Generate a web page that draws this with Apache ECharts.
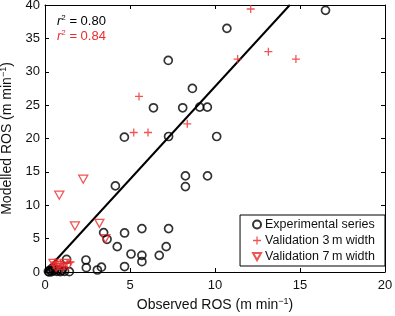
<!DOCTYPE html>
<html>
<head>
<meta charset="utf-8">
<script src="https://cdn.jsdelivr.net/npm/echarts@6/dist/echarts.min.js"></script>
<style>
  html, body { margin: 0; padding: 0; background: #fff; }
  #chart { width: 395px; height: 316px; }
</style>
</head>
<body>
<div id="chart"></div>
<script>
// data
const experimental = [
  [16.5, 39.2], [10.7, 36.5], [7.25, 31.7], [8.67, 27.5], [6.38, 24.6], [8.1, 24.6],
  [9.1, 24.7], [9.55, 24.7], [4.67, 20.2], [7.27, 20.3], [10.1, 20.3], [8.26, 14.4],
  [9.56, 14.4], [8.26, 12.8], [4.14, 12.9], [3.45, 5.9], [3.65, 4.9], [4.68, 5.85],
  [5.7, 6.5], [7.27, 6.5], [4.25, 3.8], [7.13, 3.8], [5.06, 2.7], [5.7, 2.5],
  [6.72, 2.5], [5.7, 1.55], [2.41, 1.8], [2.43, 0.65], [3.08, 0.3], [3.32, 0.72],
  [4.68, 0.82], [1.27, 1.9], [1.43, 0.05], [0.2, 0.1], [0.3, 0.3], [0.4, 0.05],
  [0.5, 0.2], [0.6, 0.4], [0.7, 0.1], [0.8, 0.3], [0.9, 0.05], [1.0, 0.25],
  [1.15, 0.1], [0.45, 0.6], [0.25, 0.0]
]
const valid3m = [
  [12.1, 39.4], [11.33, 31.9], [13.14, 33.0], [14.76, 31.9], [5.53, 26.3], [5.22, 20.9],
  [6.06, 20.9], [8.37, 22.2], [0.5, 1.0], [0.7, 0.7], [0.9, 1.2], [1.1, 0.8],
  [1.3, 1.3], [0.6, 1.5], [1.0, 0.4], [1.5, 1.5]
]
const valid7m = [
  [0.84, 11.5], [2.25, 13.9], [1.76, 6.9], [3.2, 7.3], [3.55, 5.0], [0.5, 1.3],
  [0.8, 1.0], [1.15, 1.3], [1.35, 0.9], [0.65, 0.7]
]
const fitLine = [[0, 0], [14.4, 40]]
const seriesNames = ['Experimental series', 'Validation 3\u2009m width', 'Validation 7\u2009m width']
const r2Values = ['0.80', '0.84']

const RED = '#ec2a2c'
const INK = '#111'
const FONT = 'Liberation Sans, Arial, sans-serif'
const plusPath = 'path://M4.2,0H5.8V4.2H10V5.8H5.8V10H4.2V5.8H0V4.2H4.2Z'
const triPath = 'path://M0,0L10,0L5,9Z'

const chart = echarts.init(document.getElementById('chart'))

// 坐标轴公共设置
const axisCommon = {
  type: 'value',
  splitLine: { show: false },
  axisLine: { show: true, onZero: false, lineStyle: { color: '#000', width: 1 } },
  axisTick: { show: true, inside: true, length: 4, lineStyle: { color: '#000' } }
}

const nameStyle = {
  color: INK, fontSize: 14,
  rich: { sup: { fontSize: 9, padding: [0, 0, 8, 0], color: INK } }
}

const option = {
  animation: false,
  textStyle: { fontFamily: FONT },
  grid: { left: 45, right: 10, top: 5, bottom: 44, outerBoundsMode: 'none', containLabel: false },
  xAxis: [
    {
      ...axisCommon,
      min: 0, max: 20, interval: 5,
      position: 'bottom',
      axisLabel: { color: INK, fontSize: 13, margin: 7 },
      name: 'Observed ROS (m min{sup|\u22121})',
      nameLocation: 'middle',
      nameGap: 22,
      nameTextStyle: nameStyle
    },
    {
      ...axisCommon,
      min: 0, max: 20, interval: 5,
      position: 'top',
      axisLabel: { show: false }
    }
  ],
  yAxis: [
    {
      ...axisCommon,
      min: 0, max: 40, interval: 5,
      position: 'left',
      axisLabel: { color: INK, fontSize: 13, margin: 5 },
      name: 'Modelled ROS (m min{sup|\u22121})',
      nameLocation: 'middle',
      nameRotate: 90,
      nameGap: 24,
      nameTextStyle: nameStyle
    },
    {
      ...axisCommon,
      min: 0, max: 40, interval: 5,
      position: 'right',
      axisLabel: { show: false }
    }
  ],
  legend: {
    orient: 'vertical',
    right: 10,
    top: 215,
    backgroundColor: '#fff',
    borderColor: '#000',
    borderWidth: 1,
    borderRadius: 0,
    padding: [3, 10, 3, 12],
    itemGap: 3,
    itemWidth: 8,
    itemHeight: 8,
    textStyle: { color: INK, fontSize: 12.5, padding: [0, 0, 0, -1] },
    data: seriesNames
  },
  graphic: [
    {
      type: 'text', left: 57, top: 14,
      style: {
        text: '{i|r}{s|2} = ' + r2Values[0],
        fill: '#000', font: '13px ' + FONT,
        rich: {
          i: { fontStyle: 'italic', fontSize: 13, fill: '#000' },
          s: { fontSize: 8, padding: [0, 0, 7, 0], fill: '#000' }
        }
      }
    },
    {
      type: 'text', left: 57, top: 29,
      style: {
        text: '{i|r}{s|2} = ' + r2Values[1],
        fill: RED, font: '13px ' + FONT,
        rich: {
          i: { fontStyle: 'italic', fontSize: 13, fill: RED },
          s: { fontSize: 8, padding: [0, 0, 7, 0], fill: RED }
        }
      }
    }
  ],
  series: [
    {
      name: 'fit',
      type: 'line',
      data: fitLine,
      showSymbol: false,
      lineStyle: { color: '#000', width: 2 },
      z: 1,
      silent: true
    },
    {
      name: seriesNames[0],
      type: 'scatter',
      data: experimental,
      symbol: 'circle',
      symbolSize: 8,
      itemStyle: { color: 'rgba(0,0,0,0)', borderColor: '#000', borderWidth: 1.7 },
      z: 3
    },
    {
      name: seriesNames[1],
      type: 'scatter',
      data: valid3m,
      symbol: plusPath,
      symbolSize: 8,
      itemStyle: { color: RED },
      z: 4
    },
    {
      name: seriesNames[2],
      type: 'scatter',
      data: valid7m,
      symbol: triPath,
      symbolSize: [9, 8],
      itemStyle: { color: 'rgba(0,0,0,0)', borderColor: RED, borderWidth: 1.3 },
      z: 4
    }
  ]
}

chart.setOption(option)
</script>
</body>
</html>
